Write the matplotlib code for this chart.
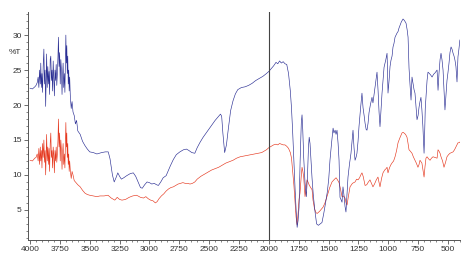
import matplotlib
matplotlib.use('Agg')
import matplotlib.pyplot as plt
from matplotlib.ticker import MultipleLocator

# blue spectrum: wavenumber (cm-1) and %T
blue_wn = [4000, 3980, 3960,
    3950, 3940, 3932, 3926, 3920, 3914, 3910, 3905, 3900, 3895, 3890, 3884, 3879,
    3874, 3869, 3865, 3861, 3856, 3851, 3846, 3841, 3836, 3831, 3826, 3821, 3816,
    3811, 3806, 3801, 3796, 3791, 3786, 3781, 3776, 3771, 3766, 3762, 3757, 3752,
    3747, 3742, 3737, 3732, 3728, 3723, 3718, 3713, 3708, 3703, 3700, 3696, 3692,
    3688, 3684, 3680, 3676, 3672, 3668, 3662, 3655, 3648,
    3640, 3630, 3620, 3610, 3600, 3580, 3560, 3540, 3520, 3500, 3470, 3440, 3400,
    3370, 3345, 3330, 3310, 3295, 3280, 3265, 3250, 3235, 3215, 3190, 3160, 3135,
    3115, 3095, 3075, 3060, 3040, 3020, 3000, 2980, 2960, 2940, 2925, 2905, 2885,
    2860, 2845, 2825, 2800, 2775, 2745, 2715, 2690, 2670, 2645, 2620, 2600, 2575,
    2550, 2525, 2500, 2475, 2450, 2425, 2405, 2395, 2385, 2370, 2355, 2340, 2320,
    2300, 2280, 2260, 2230, 2200, 2170, 2140, 2110, 2080, 2050, 2020, 2000, 1980,
    1960, 1940, 1925, 1910, 1895, 1880, 1865, 1850, 1835, 1820, 1810, 1800, 1790,
    1780, 1770, 1763, 1755, 1747, 1738, 1728, 1722, 1716, 1708, 1697, 1686, 1676,
    1668, 1662, 1655, 1648, 1638, 1628, 1615, 1600, 1585, 1570, 1555, 1540, 1525,
    1510, 1498, 1488, 1475, 1462, 1455, 1445, 1437, 1429, 1420, 1412, 1404, 1396,
    1387, 1379, 1370, 1362, 1354, 1346, 1337, 1325, 1312, 1303, 1295, 1287, 1278,
    1270, 1262, 1253, 1245, 1232, 1220, 1211, 1202, 1194, 1185, 1178, 1169, 1161,
    1150, 1136, 1128, 1115, 1100, 1094, 1085, 1077, 1069, 1060, 1052, 1044, 1035,
    1020, 1010, 1006, 1002, 993, 985, 977, 968, 960, 952, 943, 935, 926, 918, 910,
    901, 890, 876, 865, 851, 842, 834, 830, 826, 818, 809, 801, 792, 784, 776, 768,
    759, 750, 742, 734, 726, 718, 710, 705, 700, 695, 690, 684, 675, 667, 655, 645,
    633, 620, 608, 600, 591, 587, 583, 575, 566, 558, 550, 541, 533, 525, 516, 508,
    500, 491, 483, 474, 466, 457, 449, 441, 433, 424, 416, 408, 400]
blue_t = [22.4, 22.3, 22.6,
    22.8, 23.2, 24.0, 22.5, 25.0, 23.0, 26.0, 22.5, 24.5, 21.8, 25.5, 28.0, 23.0,
    25.0, 19.8, 24.0, 27.3, 22.5, 25.5, 23.0, 24.8, 21.5, 26.5, 27.0, 23.5, 25.0,
    22.0, 26.3, 24.0, 21.3, 25.0, 23.5, 25.8, 22.8, 24.5, 27.0, 29.7, 25.5, 27.5,
    23.0, 26.5, 25.0, 21.5, 24.0, 26.0, 22.5, 24.5, 21.8, 27.0, 30.0, 26.0, 28.5,
    24.5, 27.0, 23.0, 25.0, 22.0, 24.0, 21.0, 19.5, 20.5,
    19.0, 18.5, 17.3, 17.8, 16.3, 15.8, 14.8, 14.2, 13.7, 13.3, 13.2, 13.0, 13.2,
    13.3, 13.3, 12.3, 10.0, 9.0, 9.6, 10.3, 9.8, 9.4, 9.6, 9.9, 10.2, 10.3,
    9.8, 9.0, 8.2, 8.1, 8.6, 9.0, 8.9, 8.7, 8.8, 8.6, 8.5, 9.0, 9.6,
    9.9, 10.5, 11.3, 12.2, 12.9, 13.3, 13.6, 13.7, 13.5, 13.2, 13.1, 13.9, 14.7,
    15.4, 16.0, 16.6, 17.2, 17.8, 18.3, 18.7, 18.4, 16.0, 13.2, 14.3, 16.5, 19.2,
    20.6, 21.6, 22.2, 22.5, 22.6, 22.8, 23.1, 23.5, 23.8, 24.1, 24.5, 24.8, 25.2,
    25.6, 26.1, 25.9, 26.3, 26.0, 26.2, 25.9, 25.8, 24.5, 22.0, 19.5, 16.0, 12.0,
    7.9, 4.5, 2.5, 3.5, 5.4, 12.0, 17.5, 18.6, 16.5, 12.5, 8.9, 6.9, 10.0,
    14.0, 15.4, 14.5, 12.5, 9.5, 7.2, 5.0, 3.0, 2.8, 3.0, 3.2, 4.5, 6.0,
    7.6, 9.5, 12.1, 14.5, 16.7, 16.0, 16.4, 15.8, 16.4, 14.5, 12.1, 6.8, 6.5,
    6.1, 8.3, 7.0, 5.5, 4.7, 7.0, 9.7, 11.5, 13.1, 14.8, 16.4, 14.0, 12.1,
    12.5, 13.1, 14.8, 16.9, 19.5, 21.7, 19.6, 18.5, 17.4, 16.5, 16.4, 17.4, 18.9,
    20.0, 21.1, 20.3, 22.0, 24.0, 24.7, 22.0, 19.0, 16.9, 19.5, 21.7, 23.5, 25.4,
    26.5, 27.4, 25.0, 21.7, 23.5, 25.5, 26.4, 27.0, 28.3, 28.8, 29.7, 30.0, 30.3, 30.5, 31.0,
    31.4, 31.9, 32.3, 32.1, 31.7, 30.8, 29.7, 27.5, 25.3, 23.0, 20.7, 24.0, 23.0, 22.2, 21.7, 20.0,
    17.9, 18.5, 19.7, 20.5, 21.1, 19.3, 17.0, 15.0, 13.1, 16.0, 19.5, 21.1, 23.5, 24.7, 24.5, 24.3,
    24.0, 24.4, 24.6, 24.8, 25.0, 23.5, 22.1, 24.5, 26.5, 27.4, 26.5, 25.0, 22.0, 19.3, 21.5, 23.5,
    24.6, 26.0, 27.5, 28.3, 28.0, 27.4, 27.0, 26.4, 25.5, 23.3, 26.9, 28.0, 29.3]

# red spectrum
red_wn = [4000, 3980, 3960,
    3950, 3940, 3932, 3926, 3920, 3914, 3910, 3905, 3900, 3895, 3890, 3884, 3879,
    3874, 3869, 3865, 3861, 3856, 3851, 3846, 3841, 3836, 3831, 3826, 3821, 3816,
    3811, 3806, 3801, 3796, 3791, 3786, 3781, 3776, 3771, 3766, 3762, 3757, 3752,
    3747, 3742, 3737, 3732, 3728, 3723, 3718, 3713, 3708, 3703, 3700, 3696, 3692,
    3688, 3684, 3680, 3676, 3672, 3668, 3662, 3655, 3648,
    3640, 3630, 3620, 3600, 3580, 3560, 3540, 3520, 3500, 3470, 3440, 3414, 3380,
    3347, 3320, 3290, 3270, 3250, 3230, 3200, 3170, 3140, 3110, 3096, 3075, 3050,
    3030, 3010, 2990, 2970, 2950, 2935, 2920, 2900, 2880, 2860, 2840, 2820, 2800,
    2780, 2760, 2740, 2720, 2700, 2680, 2660, 2640, 2620, 2600, 2570, 2540, 2510,
    2480, 2450, 2420, 2390, 2360, 2330, 2300, 2270, 2240, 2210, 2180, 2150, 2120,
    2090, 2060, 2040, 2020, 2000, 1980, 1960, 1940, 1925, 1910, 1895, 1880, 1865,
    1850, 1835, 1820, 1810, 1800, 1790, 1780, 1772, 1764, 1755, 1747, 1739, 1730,
    1722, 1715, 1708, 1697, 1688, 1680, 1672, 1663, 1650, 1638, 1630, 1618, 1605,
    1595, 1588, 1575, 1560, 1546, 1530, 1515, 1504, 1490, 1471, 1455, 1437, 1425,
    1412, 1400, 1387, 1375, 1362, 1353, 1345, 1335, 1320, 1300, 1278, 1265, 1253,
    1240, 1230, 1220, 1210, 1194, 1180, 1170, 1153, 1140, 1128, 1115, 1100, 1086,
    1078, 1069, 1056, 1044, 1030, 1018, 1010, 1002, 990, 980, 969, 955, 943, 930,
    918, 905, 895, 885, 876, 868, 855, 843, 835, 826, 815, 801, 790, 776, 765, 751,
    742, 734, 726, 718, 710, 700, 692, 684, 675, 662, 650, 638, 625, 608, 591, 583,
    575, 566, 558, 545, 533, 520, 508, 495, 483, 470, 457, 445, 433, 424, 416, 408, 400]
red_t = [12.1, 12.0, 12.4,
    12.5, 13.0, 12.0, 13.8, 11.5, 14.0, 12.0, 13.5, 11.0, 14.5, 12.5, 15.0, 11.8,
    13.5, 10.0, 13.0, 15.8, 12.0, 14.0, 11.5, 13.8, 10.5, 14.5, 16.0, 12.5, 13.5,
    11.0, 14.0, 12.8, 10.3, 13.5, 12.0, 14.0, 11.8, 13.0, 15.0, 18.0, 14.0, 16.0,
    12.0, 15.0, 13.5, 10.8, 13.0, 14.5, 11.5, 13.0, 11.0, 15.0, 17.5, 14.0, 16.0,
    12.5, 14.5, 11.5, 13.0, 10.5, 12.0, 10.5, 9.5, 10.5,
    10.0, 9.2, 9.0, 8.6, 8.3, 7.8, 7.4, 7.2, 7.1, 7.0, 6.9, 7.0, 7.0,
    7.1, 6.7, 6.4, 6.8, 6.5, 6.4, 6.5, 6.8, 7.0, 7.1, 7.0, 6.8, 6.7,
    6.9, 6.6, 6.4, 6.3, 6.0, 6.2, 6.6, 7.0, 7.3, 7.7, 8.0, 8.2, 8.3,
    8.5, 8.7, 8.8, 8.9, 8.8, 8.8, 8.7, 8.8, 9.0, 9.4, 9.8, 10.1, 10.4,
    10.7, 10.9, 11.1, 11.4, 11.7, 11.9, 12.1, 12.4, 12.6, 12.7, 12.8, 12.9, 13.0,
    13.1, 13.2, 13.4, 13.6, 13.9, 14.1, 14.3, 14.4, 14.3, 14.5, 14.4, 14.3, 14.3,
    14.1, 13.8, 13.2, 12.4, 10.5, 8.5, 6.0, 4.0, 2.9, 4.5, 6.5, 7.4, 9.5,
    11.1, 10.5, 9.7, 6.9, 8.0, 9.3, 9.0, 8.6, 8.2, 7.9, 6.4, 5.2, 4.6,
    4.5, 4.6, 4.8, 5.1, 5.4, 6.0, 6.8, 7.4, 8.2, 9.0, 9.3, 9.6, 9.3,
    8.9, 8.0, 6.9, 7.0, 6.7, 6.0, 5.7, 6.8, 8.3, 8.8, 9.0, 9.4, 9.3,
    9.6, 10.0, 10.3, 9.8, 8.5, 8.6, 8.9, 9.3, 8.8, 8.3, 8.7, 9.3, 9.7,
    9.0, 8.3, 9.5, 10.3, 10.7, 10.9, 11.1, 10.3, 11.0, 11.4, 11.7, 12.0, 12.6, 13.5,
    14.6, 15.2, 15.6, 16.0, 16.1, 16.0, 15.8, 15.4, 14.6, 13.6, 13.4, 13.1, 12.6, 12.1, 11.7, 11.1,
    11.5, 12.1, 11.9, 11.7, 10.8, 9.7, 11.2, 12.4, 12.6, 12.3, 12.1, 12.4, 12.6, 12.5, 12.4, 13.6,
    13.4, 13.1, 12.6, 12.0, 11.1, 11.8, 12.6, 12.9, 13.1, 13.2, 13.3, 13.6, 14.0, 14.3, 14.6, 14.6, 14.7]

x_ticks = [4000, 3750, 3500, 3250, 3000, 2750, 2500, 2250, 2000, 1750, 1500, 1250, 1000, 750, 500]
y_ticks = [5, 10, 15, 20, 25, 30]

plt.rcParams['font.family'] = ['Liberation Sans', 'DejaVu Sans']
fig = plt.figure(figsize=(4.74, 2.63), dpi=100)
ax = fig.add_axes([28 / 474, 1 - 240 / 263, 432 / 474, 228 / 263])

ax.plot(red_wn, red_t, color='#e5381f', lw=0.45)
ax.plot(blue_wn, blue_t, color='#2b2f94', lw=0.45)
ax.axvline(2000, color='#444444', lw=0.8)

ax.set_xlim(4017, 399)
ax.set_ylim(0.7, 33.3)
ax.set_xticks(x_ticks)
ax.xaxis.set_minor_locator(MultipleLocator(50))
ax.set_yticks(y_ticks)
ax.yaxis.set_minor_locator(MultipleLocator(1))

for s in ['top', 'right']:
    ax.spines[s].set_visible(False)
for s in ['left', 'bottom']:
    ax.spines[s].set_color('#555555')
    ax.spines[s].set_linewidth(0.7)

ax.tick_params(which='major', length=3, width=0.6, color='#555555',
               labelsize=6, labelcolor='#333333', pad=1.5)
ax.tick_params(which='minor', length=1.6, width=0.5, color='#555555')

fig.text(15 / 474, 1 - 52 / 263, '%T', fontsize=6, color='#333333',
         ha='center', va='center')

fig.savefig('out.png', dpi=100, facecolor='white')
